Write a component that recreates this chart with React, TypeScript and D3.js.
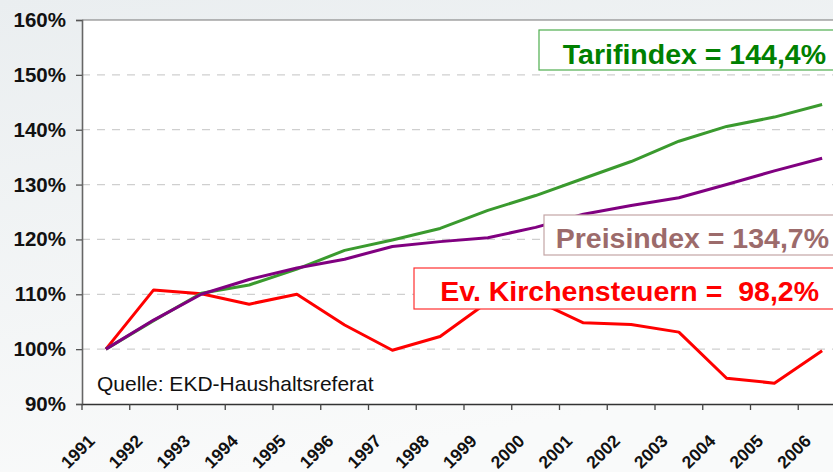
import React, { useEffect, useRef } from 'react';
import * as d3 from 'd3';

const years = ['1991', '1992', '1993', '1994', '1995', '1996', '1997', '1998', '1999', '2000', '2001', '2002', '2003', '2004', '2005', '2006'];
const tarifindex = [100, 105.2, 110.2, 111.7, 114.6, 118, 119.9, 122, 125.3, 128, 131.1, 134.2, 137.9, 140.6, 142.3, 144.6];
const preisindex = [100, 105.3, 110, 112.7, 114.8, 116.4, 118.7, 119.6, 120.3, 122.2, 124.6, 126.2, 127.6, 130, 132.5, 134.8];
const kirchensteuern = [100, 110.8, 110.1, 108.2, 110, 104.4, 99.8, 102.3, 108.6, 108.9, 104.8, 104.5, 103.1, 94.7, 93.8, 99.7];
const yTicks = [90, 100, 110, 120, 130, 140, 150, 160];

const W = 833;
const H = 472;
const margin = { left: 82, top: 20, bottom: 68 };
const plotRight = 846;
const FONT = 'Liberation Sans, Arial, sans-serif';

const chart = (svgEl: d3.Selection<SVGSVGElement, any, any, any>) => {
  svgEl.selectAll('*').remove();

  const defs = svgEl.append('defs');
  const grad = defs.append('linearGradient').attr('id', 'bg').attr('x1', 0).attr('y1', 0).attr('x2', 0.3).attr('y2', 1);
  grad.append('stop').attr('offset', '0%').attr('stop-color', '#eaeef0');
  grad.append('stop').attr('offset', '100%').attr('stop-color', '#f9fafa');

  svgEl.append('rect').attr('width', W).attr('height', H).attr('fill', 'url(#bg)');

  const x = d3.scaleBand<string>().domain(years).range([margin.left, plotRight]);
  const y = d3.scaleLinear().domain([90, 160]).range([H - margin.bottom, margin.top]);
  const cx = (d: string) => (x(d) as number) + x.bandwidth() / 2;

  svgEl
    .append('rect')
    .attr('x', margin.left)
    .attr('y', y(160))
    .attr('width', plotRight - margin.left)
    .attr('height', y(90) - y(160))
    .attr('fill', '#fff');

  // dashed grid
  svgEl
    .append('g')
    .selectAll('line')
    .data(yTicks.filter((t) => t > 90 && t < 160))
    .join('line')
    .attr('x1', margin.left)
    .attr('x2', plotRight)
    .attr('y1', (d) => y(d))
    .attr('y2', (d) => y(d))
    .attr('stroke', '#cfcfcf')
    .attr('stroke-width', 1.2)
    .attr('stroke-dasharray', '8,7');

  // top border
  svgEl
    .append('line')
    .attr('x1', margin.left)
    .attr('x2', plotRight)
    .attr('y1', y(160))
    .attr('y2', y(160))
    .attr('stroke', '#777')
    .attr('stroke-width', 1.2);

  // y axis
  const yAxis = svgEl
    .append('g')
    .attr('transform', `translate(${margin.left},0)`)
    .call(d3.axisLeft(y).tickValues(yTicks).tickSize(6).tickPadding(10).tickFormat((d) => `${d}%`));
  yAxis.select('.domain').attr('stroke', '#666').attr('stroke-width', 1.6);
  yAxis.selectAll('.tick line').attr('stroke', '#555').attr('stroke-width', 1.3);
  yAxis
    .selectAll('.tick text')
    .attr('font-family', FONT)
    .attr('font-weight', 'bold')
    .attr('font-size', 20.5)
    .attr('fill', '#111');

  // x axis
  const xAxis = svgEl
    .append('g')
    .attr('transform', `translate(0,${y(90)})`)
    .call(d3.axisBottom(x).tickSize(0).tickFormat(() => ''));
  xAxis.select('.domain').attr('stroke', '#333').attr('stroke-width', 1.5);
  xAxis.selectAll('.tick').remove();

  svgEl
    .append('g')
    .selectAll('line')
    .data(years)
    .join('line')
    .attr('x1', (d) => x(d) as number)
    .attr('x2', (d) => x(d) as number)
    .attr('y1', y(90))
    .attr('y2', y(90) + 6)
    .attr('stroke', '#444')
    .attr('stroke-width', 1.3);

  svgEl
    .append('g')
    .selectAll('text')
    .data(years)
    .join('text')
    .attr('transform', (d) => `translate(${cx(d) - 10},${y(90) + 38}) rotate(-45)`)
    .attr('text-anchor', 'end')
    .attr('font-family', FONT)
    .attr('font-weight', 'bold')
    .attr('font-size', 17.5)
    .attr('fill', '#111')
    .text((d) => d);

  // source note
  svgEl
    .append('text')
    .attr('x', 97)
    .attr('y', 391)
    .attr('font-family', FONT)
    .attr('font-size', 21)
    .attr('fill', '#111')
    .text('Quelle: EKD-Haushaltsreferat');

  const line = d3
    .line<number>()
    .x((_, i) => cx(years[i]))
    .y((d) => y(d));

  const series = [
    { values: kirchensteuern, color: '#ff0000' },
    { values: tarifindex, color: '#3a9a2e' },
    { values: preisindex, color: '#800080' },
  ];

  svgEl
    .append('g')
    .selectAll('path')
    .data(series)
    .join('path')
    .attr('d', (d) => line(d.values))
    .attr('fill', 'none')
    .attr('stroke', (d) => d.color)
    .attr('stroke-width', 3)
    .attr('stroke-linejoin', 'round');

  // value labels in boxes
  const labels = [
    { text: 'Tarifindex = 144,4%', x0: 539, y0: 30, h: 40, tx: 826, ty: 64, color: '#008000', border: '#4fae4f' },
    { text: 'Preisindex = 134,7%', x0: 544, y0: 215, h: 40, tx: 829, ty: 248, color: '#9c6b6b', border: '#c4a6a6' },
    { text: 'Ev. Kirchensteuern =  98,2%', x0: 414, y0: 268, h: 41, tx: 819, ty: 301, color: '#ff0000', border: '#ff3030' },
  ];

  const lab = svgEl.append('g').selectAll('g').data(labels).join('g');
  lab
    .append('rect')
    .attr('x', (d) => d.x0)
    .attr('y', (d) => d.y0)
    .attr('width', (d) => W + 10 - d.x0)
    .attr('height', (d) => d.h)
    .attr('fill', '#fff')
    .attr('stroke', (d) => d.border)
    .attr('stroke-width', 1.2);
  lab
    .append('text')
    .attr('x', (d) => d.tx)
    .attr('y', (d) => d.ty)
    .attr('text-anchor', 'end')
    .attr('font-family', FONT)
    .attr('font-weight', 'bold')
    .attr('font-size', 28.5)
    .attr('fill', (d) => d.color)
    .style('white-space', 'pre')
    .text((d) => d.text);
};

export default function App() {
  const svgRef = useRef<SVGSVGElement>(null);

  useEffect(() => {
    if (svgRef.current === null) {
      return;
    }
    chart(d3.select(svgRef.current));
  }, []);

  return (
    <svg
      ref={svgRef}
      width={W}
      height={H}
      style={{ position: 'absolute', left: 0, top: 0, display: 'block' }}
    ></svg>
  );
}
